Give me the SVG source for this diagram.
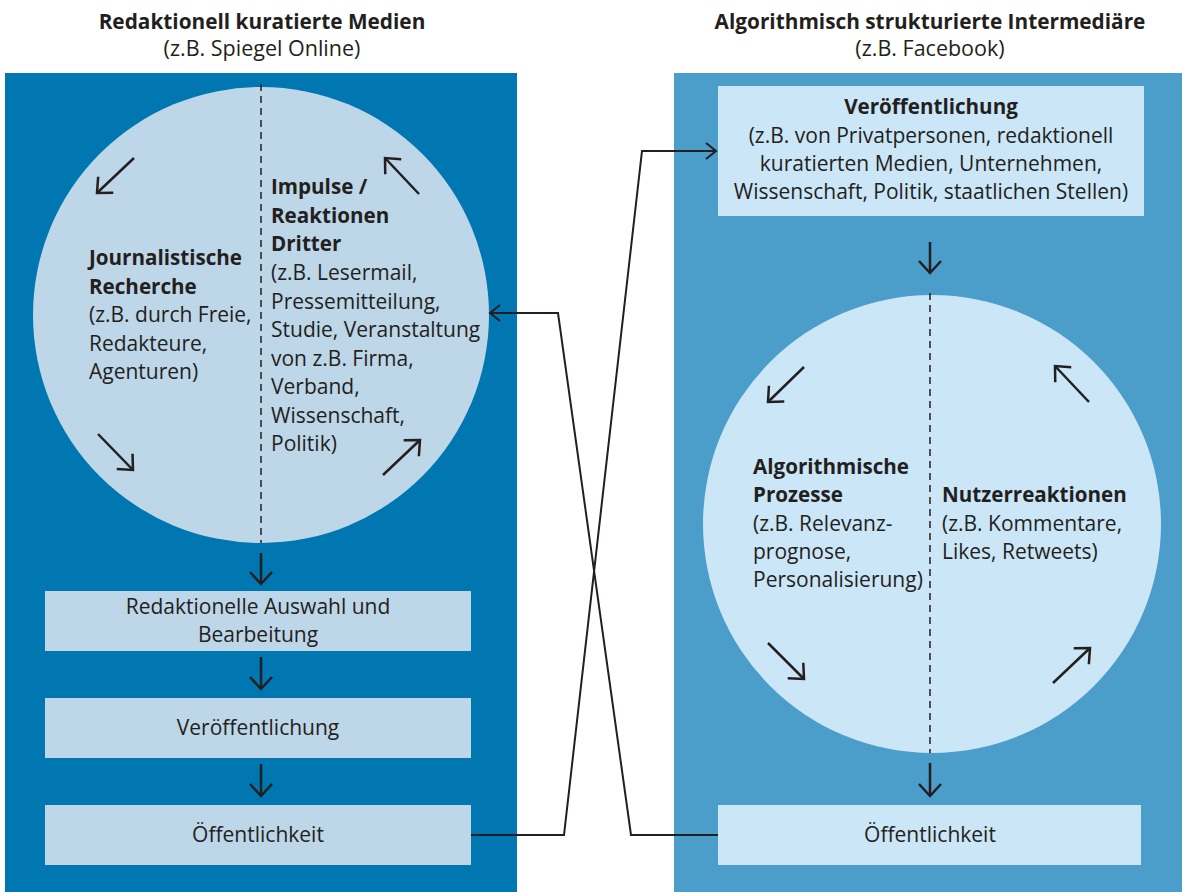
<svg xmlns="http://www.w3.org/2000/svg" width="1182" height="892" viewBox="0 0 1182 892">
<style>
text{font-family:"Open Sans","Liberation Sans",sans-serif;fill:#231f20;}
.t{font-size:20.8px;font-weight:bold;text-anchor:middle;}
.st{font-size:21.5px;text-anchor:middle;}
.b{font-size:20.6px;font-weight:bold;}
.r{font-size:21px;}
.c{text-anchor:middle;}
.ln{stroke:#231f20;stroke-width:2.5;fill:none;}
.cn{stroke:#231f20;stroke-width:2;fill:none;}
.dash{stroke:#231f20;stroke-width:1.5;stroke-dasharray:7 5;fill:none;}
.pl{fill:#0077b1;}
.pr{fill:#4b9dca;}
.ll{fill:#bdd6e8;}
.lr{fill:#cbe6f7;}
</style>
<defs>
<marker id="arr" markerUnits="userSpaceOnUse" markerWidth="30" markerHeight="30" refX="0" refY="0" orient="auto" overflow="visible">
<path d="M-12,-11 L0,0 L-12,11" fill="none" stroke="#231f20" stroke-width="2.5"/>
</marker>
<marker id="arrS" markerUnits="userSpaceOnUse" markerWidth="30" markerHeight="30" refX="0" refY="0" orient="auto" overflow="visible">
<path d="M-10,-8 L0,0 L-10,8" fill="none" stroke="#231f20" stroke-width="2"/>
</marker>
</defs>

<g id="title-left">
<text class="t" x="262" y="29">Redaktionell kuratierte Medien</text>
<text class="st" x="262" y="56">(z.B. Spiegel Online)</text>
</g>
<g id="title-right">
<text class="t" x="930" y="29">Algorithmisch strukturierte Intermediäre</text>
<text class="st" x="930" y="56">(z.B. Facebook)</text>
</g>

<g id="panel-left">
<rect class="pl" x="5" y="73" width="512" height="819"/>
</g>
<g id="panel-right">
<rect class="pr" x="674" y="73" width="508" height="819"/>
</g>

<g id="circle-left">
<circle class="ll" cx="261" cy="315" r="228"/>
<line class="dash" x1="261" y1="84" x2="261" y2="543"/>
<path class="ln" d="M134,158 L97,193" marker-end="url(#arr)"/>
<path class="ln" d="M98,434 L133,470" marker-end="url(#arr)"/>
<path class="ln" d="M419,194 L385,158" marker-end="url(#arr)"/>
<path class="ln" d="M383,475 L420,440" marker-end="url(#arr)"/>
<text class="b" x="89" y="265">Journalistische</text>
<text class="b" x="89" y="293.5">Recherche</text>
<text class="r" x="89" y="322">(z.B. durch Freie,</text>
<text class="r" x="89" y="350.5">Redakteure,</text>
<text class="r" x="89" y="379">Agenturen)</text>
<text class="b" x="271" y="194">Impulse /</text>
<text class="b" x="271" y="222.5">Reaktionen</text>
<text class="b" x="271" y="251">Dritter</text>
<text class="r" x="271" y="280">(z.B. Lesermail,</text>
<text class="r" x="271" y="308.5">Pressemitteilung,</text>
<text class="r" x="271" y="337">Studie, Veranstaltung</text>
<text class="r" x="271" y="365.5">von z.B. Firma,</text>
<text class="r" x="271" y="394">Verband,</text>
<text class="r" x="271" y="422.5">Wissenschaft,</text>
<text class="r" x="271" y="451">Politik)</text>
</g>

<g id="box-auswahl">
<rect class="ll" x="45" y="591" width="426" height="60"/>
<text class="r c" x="258" y="614">Redaktionelle Auswahl und</text>
<text class="r c" x="258" y="642">Bearbeitung</text>
</g>
<g id="box-veroeff-left">
<rect class="ll" x="45" y="698" width="426" height="60"/>
<text class="r c" x="258" y="735">Veröffentlichung</text>
</g>
<g id="box-oeff-left">
<rect class="ll" x="45" y="805" width="426" height="60"/>
<text class="r c" x="258" y="842">Öffentlichkeit</text>
</g>

<g id="box-veroeff-right">
<rect class="lr" x="718" y="86" width="426" height="130"/>
<text class="b c" x="931" y="114">Veröffentlichung</text>
<text class="r c" x="931" y="143">(z.B. von Privatpersonen, redaktionell</text>
<text class="r c" x="931" y="171">kuratierten Medien, Unternehmen,</text>
<text class="r c" x="931" y="199">Wissenschaft, Politik, staatlichen Stellen)</text>
</g>

<g id="circle-right">
<circle class="lr" cx="932" cy="524" r="229"/>
<line class="dash" x1="930" y1="293" x2="930" y2="753"/>
<path class="ln" d="M804,367 L768,402" marker-end="url(#arr)"/>
<path class="ln" d="M768,643 L804,679" marker-end="url(#arr)"/>
<path class="ln" d="M1089,402 L1055,366" marker-end="url(#arr)"/>
<path class="ln" d="M1053,683 L1090,648" marker-end="url(#arr)"/>
<text class="b" x="753" y="474">Algorithmische</text>
<text class="b" x="753" y="502">Prozesse</text>
<text class="r" x="753" y="531">(z.B. Relevanz-</text>
<text class="r" x="753" y="559">prognose,</text>
<text class="r" x="753" y="587">Personalisierung)</text>
<text class="b" x="942" y="502">Nutzerreaktionen</text>
<text class="r" x="942" y="531">(z.B. Kommentare,</text>
<text class="r" x="942" y="559">Likes, Retweets)</text>
</g>

<g id="box-oeff-right">
<rect class="lr" x="718" y="805" width="423" height="60"/>
<text class="r c" x="930" y="842">Öffentlichkeit</text>
</g>

<g id="connectors">
<path class="ln" d="M261,553 L261,584" marker-end="url(#arr)"/>
<path class="ln" d="M261,657 L261,689" marker-end="url(#arr)"/>
<path class="ln" d="M261,764 L261,796" marker-end="url(#arr)"/>
<path class="ln" d="M930,242 L930,273" marker-end="url(#arr)"/>
<path class="ln" d="M930,763 L930,796" marker-end="url(#arr)"/>
<path class="cn" d="M471,835 L564,835 L642,151 L716,151" marker-end="url(#arrS)"/>
<path class="cn" d="M718,835 L631,835 L558,313 L490,313" marker-end="url(#arrS)"/>
</g>
</svg>
